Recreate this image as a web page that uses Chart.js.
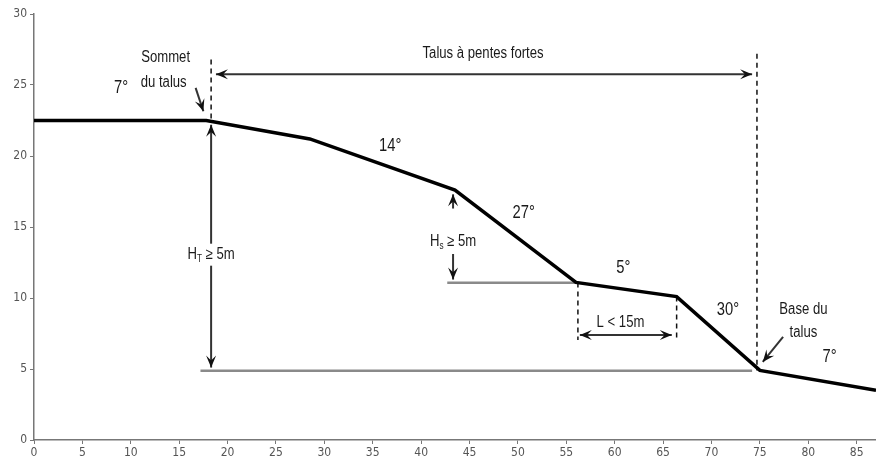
<!DOCTYPE html>
<html>
<head>
<meta charset="utf-8">
<script src="https://cdn.jsdelivr.net/npm/chart.js@4.4.1/dist/chart.umd.min.js"></script>
<style>
  html, body { margin: 0; padding: 0; background: #fff; }
  #wrap { width: 876px; height: 466px; }
</style>
</head>
<body>
<div id="wrap"><canvas id="talusChart"></canvas></div>
<script>
// profil du terrain (distance en m, altitude en m)
const profileX = [0, 17.8, 28.5, 43.5, 56.0, 66.4, 75.0, 87];
const profileY = [22.5, 22.5, 21.2, 17.6, 11.1, 10.1, 4.9, 3.5];

// lignes de référence grises
const baseLineX = [17.2, 74.2];
const baseLineY = [4.87, 4.87];
const benchLineX = [42.7, 56.0];
const benchLineY = [11.08, 11.08];

// lignes verticales pointillées
const dashX = [18.3, 74.7, 56.2, 66.4];
const dashTop = [26.8, 27.2, 11.1, 10.1];
const dashBottom = [22.6, 4.9, 7.05, 7.05];

// flèches : départ, arrivée, pointe au départ / à l'arrivée
const arrowX1 = [18.8, 18.3, 43.3, 43.3, 56.4, 16.7, 77.4];
const arrowY1 = [25.76, 22.2, 16.3, 13.1, 7.4, 24.8, 7.27];
const arrowX2 = [74.2, 18.3, 43.3, 43.3, 65.9, 17.5, 75.3];
const arrowY2 = [25.76, 5.1, 17.3, 11.3, 7.4, 23.15, 5.5];
const arrowHeadStart = [true, true, false, false, true, false, false];

// étiquettes
const labelText = ["Talus à pentes fortes", "Sommet", "du talus", "7°", "14°", "27°", "H", "5°", "L < 15m", "30°", "Base du", "talus", "7°", "H"];
const labelSub = ["", "", "", "", "", "", "s", "", "", "", "", "", "", "T"];
const labelAfter = ["", "", "", "", "", "", " ≥ 5m", "", "", "", "", "", "", " ≥ 5m"];
const labelX = [46.4, 13.6, 13.4, 9.0, 36.8, 50.6, 43.3, 60.9, 60.6, 71.7, 79.5, 79.5, 82.2, 18.3];
const labelY = [27.2, 26.9, 25.2, 24.8, 20.7, 16.0, 14.0, 12.1, 8.26, 9.17, 9.17, 7.55, 5.86, 13.05];

const xTicks = [0, 5, 10, 15, 20, 25, 30, 35, 40, 45, 50, 55, 60, 65, 70, 75, 80, 85];
const yTicks = [0, 5, 10, 15, 20, 25, 30];

const FONT = "'Liberation Sans', Arial, sans-serif";
const SQUEEZE = 0.82; // texte étroit comme dans l'original

function pts(xs, ys) {
    return xs.map((x, i) => ({ x: x, y: ys[i] }));
}

const datasets = [
    { data: pts(profileX, profileY), borderColor: '#000', borderWidth: 3.5 },
    { data: pts(baseLineX, baseLineY), borderColor: '#8a8a8a', borderWidth: 2.5 },
    { data: pts(benchLineX, benchLineY), borderColor: '#8a8a8a', borderWidth: 2.5 }
];
dashX.forEach((x, i) => {
    datasets.push({
        data: [{ x: x, y: dashTop[i] }, { x: x, y: dashBottom[i] }],
        borderColor: '#111', borderWidth: 1.5, borderDash: [5, 4]
    });
});
datasets.forEach(d => {
    d.showLine = true;
    d.pointRadius = 0;
    d.fill = false;
    d.tension = 0;
});

function head(ctx, fx, fy, tx, ty) {
    const a = Math.atan2(ty - fy, tx - fx);
    const len = 12, w = 5;
    ctx.beginPath();
    ctx.moveTo(tx, ty);
    ctx.lineTo(tx - len * Math.cos(a) + w * Math.sin(a), ty - len * Math.sin(a) - w * Math.cos(a));
    ctx.lineTo(tx - 0.6 * len * Math.cos(a), ty - 0.6 * len * Math.sin(a));
    ctx.lineTo(tx - len * Math.cos(a) - w * Math.sin(a), ty - len * Math.sin(a) + w * Math.cos(a));
    ctx.closePath();
    ctx.fill();
}

const annotations = {
    id: 'annotations',
    afterDatasetsDraw(chart) {
        const ctx = chart.ctx;
        const xs = chart.scales.x, ys = chart.scales.y;
        ctx.save();
        // flèches
        ctx.strokeStyle = '#333';
        ctx.fillStyle = '#111';
        ctx.lineWidth = 2;
        arrowX1.forEach((v, i) => {
            const x1 = xs.getPixelForValue(v), y1 = ys.getPixelForValue(arrowY1[i]);
            const x2 = xs.getPixelForValue(arrowX2[i]), y2 = ys.getPixelForValue(arrowY2[i]);
            ctx.beginPath();
            ctx.moveTo(x1, y1);
            ctx.lineTo(x2, y2);
            ctx.stroke();
            head(ctx, x1, y1, x2, y2);
            if (arrowHeadStart[i]) head(ctx, x2, y2, x1, y1);
        });
        // textes
        ctx.textBaseline = 'middle';
        ctx.textAlign = 'left';
        labelText.forEach((t, i) => {
            const big = /°/.test(t) ? 18 : 16;
            const px = xs.getPixelForValue(labelX[i]), py = ys.getPixelForValue(labelY[i]);
            ctx.font = big + 'px ' + FONT;
            const w1 = ctx.measureText(t).width;
            ctx.font = '10px ' + FONT;
            const w2 = ctx.measureText(labelSub[i]).width;
            ctx.font = big + 'px ' + FONT;
            const w3 = ctx.measureText(labelAfter[i]).width;
            const total = (w1 + w2 + w3) * SQUEEZE;
            const x0 = px - total / 2;
            if (labelSub[i]) {
                ctx.fillStyle = '#fff';
                ctx.fillRect(x0 - 3, py - 11, total + 6, 22);
            }
            ctx.save();
            ctx.translate(x0, py);
            ctx.scale(SQUEEZE, 1);
            ctx.fillStyle = '#1a1a1a';
            ctx.fillText(t, 0, 0);
            if (labelSub[i]) {
                ctx.font = '10px ' + FONT;
                ctx.fillText(labelSub[i], w1, 5);
                ctx.font = big + 'px ' + FONT;
                ctx.fillText(labelAfter[i], w1 + w2, 0);
            }
            ctx.restore();
        });
        ctx.restore();
    }
};

new Chart(document.getElementById('talusChart').getContext('2d'), {
    type: 'scatter',
    data: { datasets: datasets },
    options: {
        responsive: true,
        maintainAspectRatio: false,
        animation: false,
        layout: { padding: { top: 14, right: 0, left: 0, bottom: 0 } },
        plugins: { legend: { display: false }, tooltip: { enabled: false } },
        scales: {
            x: {
                type: 'linear',
                min: 0,
                max: 87,
                afterBuildTicks: s => { s.ticks = xTicks.map(v => ({ value: v })); },
                afterFit: s => { s.height = 26; },
                border: { color: '#777', width: 1.5 },
                grid: { drawOnChartArea: false, tickLength: 4, color: '#777' },
                ticks: { color: '#555', font: { size: 12, family: "'DejaVu Sans Condensed', sans-serif" }, padding: 2, maxRotation: 0 }
            },
            y: {
                min: 0,
                max: 30,
                afterBuildTicks: s => { s.ticks = yTicks.map(v => ({ value: v })); },
                afterFit: s => { s.width = 34; },
                border: { color: '#777', width: 1.5 },
                grid: { drawOnChartArea: false, tickLength: 4, color: '#777' },
                ticks: { color: '#555', font: { size: 12, family: "'DejaVu Sans Condensed', sans-serif" }, padding: 3 }
            }
        }
    },
    plugins: [annotations]
});
</script>
</body>
</html>
